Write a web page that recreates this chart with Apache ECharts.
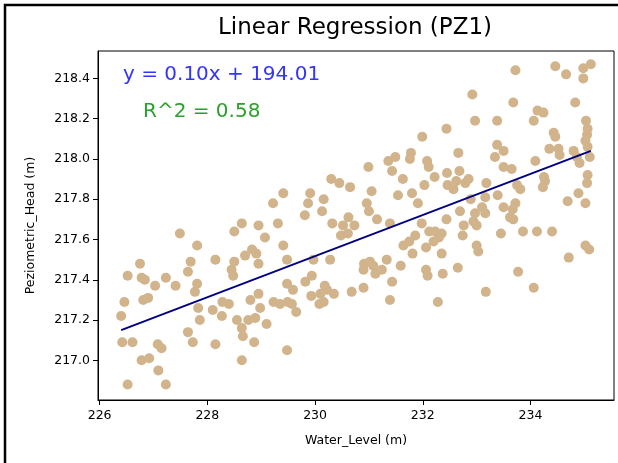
<!DOCTYPE html>
<html>
<head>
<meta charset="utf-8">
<script src="https://cdn.jsdelivr.net/npm/echarts@6/dist/echarts.min.js"></script>
<style>
  html, body { margin: 0; padding: 0; background: #fff; }
  #chart { width: 618px; height: 463px; }
</style>
</head>
<body>
<div id="chart"></div>
<script>
const xTicks = [226, 228, 230, 232, 234];
const yTicks = [217.0, 217.2, 217.4, 217.6, 217.8, 218.0, 218.2, 218.4];

const waterLevel = [
  229.41, 229.22, 228.64, 228.95, 229.31, 228.50, 229.07, 229.41, 227.49, 227.81,
  228.15, 226.75, 227.69, 227.64, 226.52, 226.78, 226.84, 227.03, 227.23, 227.41,
  227.81, 227.77, 226.46, 226.81, 226.90, 228.50, 228.45, 228.48, 228.70, 228.83,
  228.91, 228.95, 229.48, 229.48, 229.59, 228.95, 228.80, 228.28, 228.40, 229.23,
  229.35, 229.49, 229.57, 229.65, 226.40, 227.83, 227.86, 228.10, 228.27, 227.64,
  227.73, 228.15, 226.42, 226.61, 227.08, 227.15, 226.78, 226.92, 227.09, 226.52,
  227.23, 228.98, 228.89, 228.55, 228.64, 228.66, 228.76, 228.87, 229.10, 228.64,
  229.48, 229.91, 230.16, 229.87, 230.13, 229.81, 230.30, 230.45, 230.65, 230.62,
  230.32, 230.52, 230.73, 230.48, 230.61, 230.99, 231.36, 231.49, 231.78, 231.76,
  232.08, 232.11, 231.99, 232.44, 231.43, 231.63, 232.22, 232.45, 232.46, 232.03,
  231.05, 231.54, 231.80, 231.91, 230.96, 231.00, 231.15, 231.39, 231.98, 232.44,
  229.97, 230.28, 229.94, 229.82, 230.18, 230.22, 230.10, 229.93, 230.35, 230.08,
  230.16, 230.68, 230.90, 230.91, 230.90, 231.08, 231.12, 231.24, 231.33, 231.02,
  231.43, 231.39, 231.59, 231.64, 231.75, 231.81, 231.86, 232.06, 232.20, 232.12,
  232.23, 232.35, 232.30, 232.06, 232.09, 232.35, 232.37, 232.28, 233.72, 234.46,
  234.66, 234.98, 235.12, 234.98, 232.92, 233.68, 234.83, 234.13, 234.24, 234.06,
  232.97, 233.38, 235.03, 235.06, 235.05, 235.02, 235.06, 234.43, 234.46, 234.35,
  234.52, 234.54, 234.80, 234.86, 234.91, 235.10, 234.09, 233.38, 233.50, 233.34,
  233.50, 233.65, 232.66, 232.68, 232.62, 232.85, 232.79, 232.57, 233.18, 233.16,
  233.39, 233.75, 233.81, 234.25, 234.27, 234.23, 235.06, 235.05, 234.89, 234.69,
  235.02, 232.69, 232.97, 233.10, 233.16, 232.94, 233.50, 233.62, 233.72, 233.68,
  232.89, 233.67, 232.76, 232.74, 233.00, 233.00, 233.03, 233.17, 233.45, 233.86,
  234.12, 234.40, 233.77, 234.06, 234.71, 235.02, 235.09, 232.65
];

const piezometricHead = [
  217.83, 217.78, 217.68, 217.67, 217.68, 217.64, 217.61, 217.57, 217.63, 217.57,
  217.50, 217.48, 217.49, 217.44, 217.42, 217.41, 217.40, 217.37, 217.41, 217.37,
  217.38, 217.34, 217.29, 217.30, 217.31, 217.49, 217.45, 217.42, 217.52, 217.55,
  217.53, 217.48, 217.50, 217.38, 217.35, 217.33, 217.30, 217.29, 217.28, 217.29,
  217.28, 217.29, 217.28, 217.24, 217.22, 217.26, 217.20, 217.25, 217.22, 217.14,
  217.09, 217.08, 217.09, 217.09, 217.08, 217.06, 217.00, 217.01, 216.95, 216.88,
  216.88, 217.26, 217.21, 217.20, 217.16, 217.12, 217.20, 217.09, 217.18, 217.00,
  217.05, 217.83, 217.80, 217.78, 217.74, 217.72, 217.90, 217.88, 217.86, 217.71,
  217.68, 217.67, 217.67, 217.62, 217.63, 217.96, 217.99, 218.01, 218.03, 218.00,
  217.99, 217.96, 218.11, 218.15, 217.94, 217.90, 217.91, 217.93, 217.87, 217.87,
  217.84, 217.82, 217.83, 217.78, 217.78, 217.74, 217.70, 217.68, 217.68, 217.70,
  217.50, 217.50, 217.42, 217.39, 217.37, 217.35, 217.33, 217.32, 217.33, 217.28,
  217.29, 217.34, 217.36, 217.48, 217.45, 217.47, 217.43, 217.45, 217.50, 217.49,
  217.39, 217.30, 217.47, 217.57, 217.59, 217.53, 217.62, 217.56, 217.59, 217.64,
  217.64, 217.63, 217.61, 217.45, 217.42, 217.53, 217.43, 217.29, 218.44, 218.46,
  218.42, 218.45, 218.47, 218.40, 218.32, 218.28, 218.28, 218.24, 218.23, 218.19,
  218.19, 218.19, 218.19, 218.15, 218.12, 218.09, 218.06, 218.13, 218.11, 218.05,
  218.05, 218.02, 218.04, 218.01, 217.98, 218.01, 217.99, 218.07, 218.04, 218.01,
  217.96, 217.95, 218.03, 217.94, 217.89, 217.90, 217.88, 217.85, 217.88, 217.81,
  217.82, 217.87, 217.85, 217.91, 217.89, 217.86, 217.92, 217.88, 217.83, 217.79,
  217.78, 217.74, 217.73, 217.76, 217.73, 217.69, 217.76, 217.71, 217.78, 217.70,
  217.80, 217.75, 217.67, 217.62, 217.67, 217.57, 217.54, 217.34, 217.63, 217.64,
  217.64, 217.64, 217.44, 217.36, 217.51, 217.57, 217.55, 217.46
];

const fitX = [226.40, 235.12];
const fitY = [217.15, 218.04];

const titleText = 'Linear Regression (PZ1)';
const equationText = 'y = 0.10x + 194.01';
const r2Text = 'R^2 = 0.58';
const xName = 'Water_Level (m)';
const yName = 'Peziometric_Head (m)';

const FONT = '"DejaVu Sans", sans-serif';
const chart = echarts.init(document.getElementById('chart'), null, { renderer: 'canvas' });

const scatterData = waterLevel.map((x, i) => [x, piezometricHead[i]]);
const lineData = fitX.map((x, i) => [x, fitY[i]]);

chart.setOption({
  animation: false,
  backgroundColor: '#ffffff',
  grid: {
    left: 98, right: 4, top: 51, bottom: 63,
    show: true, borderColor: '#000', borderWidth: 1, backgroundColor: '#fff'
  },
  xAxis: {
    type: 'value', min: 225.97, max: 235.55,
    name: xName, nameLocation: 'middle', nameGap: 34,
    nameTextStyle: { fontFamily: FONT, fontSize: 12.5, color: '#000' },
    axisLine: { show: true, lineStyle: { color: '#000', width: 1 } },
    axisTick: { show: true, inside: false, length: 5, lineStyle: { color: '#000' }, customValues: xTicks },
    axisLabel: { show: true, margin: 9, fontFamily: FONT, fontSize: 12.5, color: '#000',
                 customValues: xTicks, formatter: v => String(Math.round(v)) },
    splitLine: { show: false }
  },
  yAxis: {
    type: 'value', min: 216.803, max: 218.536,
    name: yName, nameLocation: 'middle', nameGap: 61, nameRotate: 90,
    nameTextStyle: { fontFamily: FONT, fontSize: 12.5, color: '#000' },
    axisLine: { show: true, lineStyle: { color: '#000', width: 1 } },
    axisTick: { show: true, inside: false, length: 5, lineStyle: { color: '#000' }, customValues: yTicks },
    axisLabel: { show: true, margin: 8, fontFamily: FONT, fontSize: 12.5, color: '#000',
                 customValues: yTicks, formatter: v => v.toFixed(1) },
    splitLine: { show: false }
  },
  graphic: [
    { type: 'rect', shape: { x: 5, y: 5, width: 700, height: 600 },
      style: { fill: 'none', stroke: '#000', lineWidth: 2.5 }, z: 100, silent: true },
    { type: 'text', x: 355, y: 28, z: 100,
      style: { text: titleText, fontFamily: FONT, fontSize: 23, fill: '#000',
               textAlign: 'center', textVerticalAlign: 'middle' } },
    { type: 'text', x: 123, y: 75, z: 100,
      style: { text: equationText, fontFamily: FONT, fontSize: 20, fill: '#3333ff',
               textAlign: 'left', textVerticalAlign: 'middle' } },
    { type: 'text', x: 143, y: 112, z: 100,
      style: { text: r2Text, fontFamily: FONT, fontSize: 20, fill: '#2ca02c',
               textAlign: 'left', textVerticalAlign: 'middle' } }
  ],
  series: [
    {
      type: 'scatter', data: scatterData, symbol: 'circle', symbolSize: 10,
      itemStyle: { color: '#d2b48c', opacity: 1 }, z: 2
    },
    {
      type: 'line', data: lineData, symbol: 'none', z: 3,
      lineStyle: { color: '#000080', width: 2 }
    }
  ]
});
</script>
</body>
</html>
